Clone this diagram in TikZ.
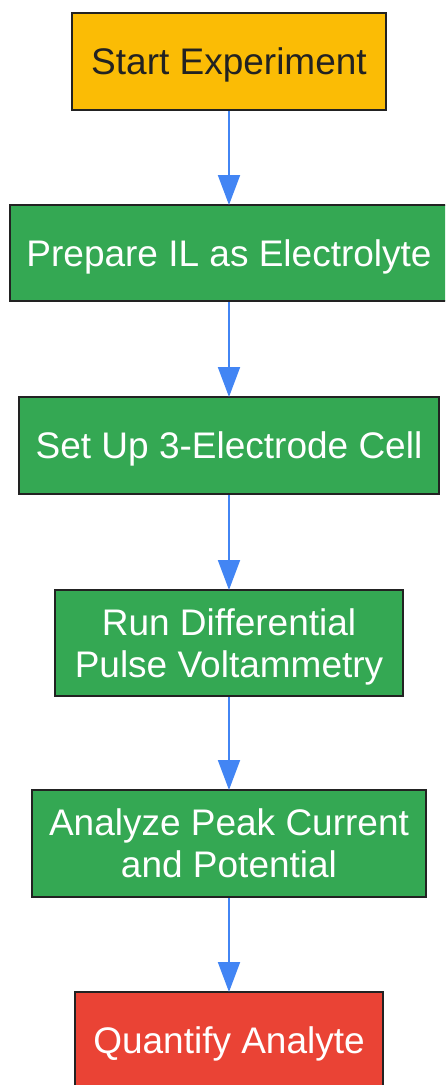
\documentclass[tikz,border=0pt]{standalone}
\usepackage{fontspec}
\setmainfont{Liberation Sans}
\usetikzlibrary{arrows.meta}
\definecolor{cyellow}{HTML}{FBBC05}
\definecolor{cgreen}{HTML}{34A853}
\definecolor{cred}{HTML}{EA4335}
\definecolor{cblue}{HTML}{4285F4}
\definecolor{cborder}{HTML}{222222}
\begin{document}
\begin{tikzpicture}[x=1pt,y=1pt,
  box/.style={draw=cborder, line width=2pt, rectangle, inner sep=0pt, align=center,
    text depth=0pt, font=\fontsize{37}{42}\selectfont},
  startbox/.style={box, fill=cyellow, text=cborder},
  stepbox/.style={box, fill=cgreen, text=white},
  endbox/.style={box, fill=cred, text=white},
  flow/.style={draw=cblue, line width=2pt, -{Triangle[length=30pt,width=22pt]}, shorten >=-1pt}
]
\useasboundingbox (0,0) rectangle (445,-1085);
\begin{scope}
\clip (0,0) rectangle (445,-1085);
\node[startbox, minimum width=314pt, minimum height=97pt] (n1) at (229,-61.5) {Start Experiment};
\node[stepbox, minimum width=438pt, minimum height=96pt] (n2) at (229,-253) {Prepare IL as Electrolyte};
\node[stepbox, minimum width=420pt, minimum height=97pt] (n3) at (229,-445.5) {Set Up 3-Electrode Cell};
\node[stepbox, minimum width=348pt, minimum height=106pt] (n4) at (229,-643) {Run Differential\\Pulse Voltammetry};
\node[stepbox, minimum width=394pt, minimum height=107pt] (n5) at (229,-843.5) {Analyze Peak Current\\and Potential};
\node[endbox, minimum width=308pt, minimum height=97pt] (n6) at (229,-1040.5) {Quantify Analyte};
\end{scope}
\draw[flow] (n1.south) -- (n2.north);
\draw[flow] (n2.south) -- (n3.north);
\draw[flow] (n3.south) -- (n4.north);
\draw[flow] (n4.south) -- (n5.north);
\draw[flow] (n5.south) -- (n6.north);
\end{tikzpicture}
\end{document}
